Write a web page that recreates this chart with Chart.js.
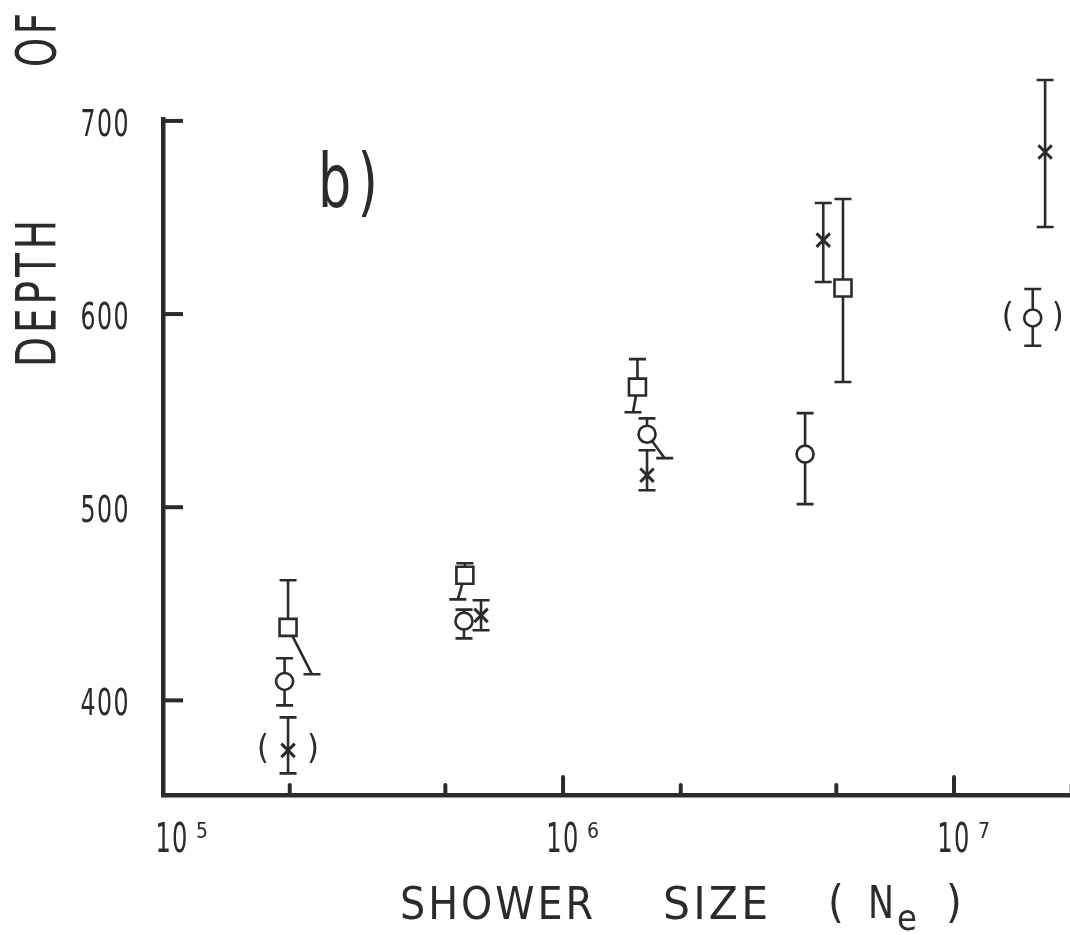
<!DOCTYPE html>
<html>
<head>
<meta charset="utf-8">
<script src="https://cdn.jsdelivr.net/npm/chart.js@4/dist/chart.umd.min.js"></script>
<style>
  html, body { margin: 0; padding: 0; background: #ffffff; }
  #wrap { width: 1070px; height: 935px; }
</style>
</head>
<body>
<div id="wrap"><canvas id="c" width="1070" height="935"></canvas></div>
<script>
// Depth of shower maximum versus shower size, panel b)

// Squares
const squareX  = [1.98e5, 5.61e5, 1.55e6, 5.20e6];
const squareY  = [437.8, 464.8, 562.2, 613.5];
const squareHi = [462.2, 471.0, 576.7, 659.6];
const squareLo = [413.5, 452.3, 549.2, 564.8];
const squareLoX = [2.28e5, 5.38e5, 1.51e6, null];   // displaced lower whisker end

// Circles
const circleX  = [1.94e5, 5.58e5, 1.64e6, 4.16e6, 1.59e7];
const circleY  = [409.8, 441.0, 537.8, 527.5, 598.0];
const circleHi = [421.8, 447.0, 546.0, 548.7, 613.0];
const circleLo = [397.4, 432.1, 525.4, 501.6, 583.6];
const circleLoX = [null, null, 1.82e6, null, null];
const circleBracketed = [false, false, false, false, true];

// Crosses
const crossX  = [1.98e5, 6.17e5, 1.64e6, 4.63e6, 1.71e7];
const crossY  = [374.1, 444.0, 516.6, 638.3, 683.9];
const crossHi = [391.2, 451.8, 529.5, 657.5, 721.2];
const crossLo = [362.2, 436.3, 508.8, 616.6, 645.1];
const crossBracketed = [true, false, false, false, false];

// Axes
const yTicks = [400, 500, 600, 700];
const xDecades = [5, 6, 7];
const xTickMarks = [2e5, 5e5, 1e6, 2e6, 5e6, 1e7, 2e7];

const INK = '#2b2b2b';
const FONT = '"DejaVu Sans Condensed", "DejaVu Sans", sans-serif';

function points(xs, ys) {
  return xs.map((x, i) => ({ x: x, y: ys[i] }));
}

// Draw text squeezed horizontally to a given width (narrow stencil lettering)
function fitText(ctx, s, x, y, size, width, align, spacing) {
  ctx.save();
  ctx.font = size + 'px ' + FONT;
  const canSpace = 'letterSpacing' in ctx;
  if (canSpace) ctx.letterSpacing = (spacing || 0) + 'px';
  let w = ctx.measureText(s).width;
  if (canSpace && spacing) w -= spacing;          // no trailing gap
  const sx = width ? width / w : 1;
  ctx.translate(x, y);
  ctx.scale(sx, 1);
  ctx.textAlign = align || 'left';
  ctx.fillText(s, 0, 0);
  ctx.restore();
}

const series = [
  { x: squareX, y: squareY, hi: squareHi, lo: squareLo, loX: squareLoX, br: null },
  { x: circleX, y: circleY, hi: circleHi, lo: circleLo, loX: circleLoX, br: circleBracketed },
  { x: crossX,  y: crossY,  hi: crossHi,  lo: crossLo,  loX: null,      br: crossBracketed }
];

const decor = {
  id: 'decor',
  beforeDatasetsDraw(chart) {
    const ctx = chart.ctx;
    const xs = chart.scales.x, ys = chart.scales.y;
    const area = chart.chartArea;
    ctx.save();
    ctx.strokeStyle = INK;
    ctx.lineCap = 'butt';

    // inward ticks on the depth axis
    ctx.lineWidth = 4;
    yTicks.forEach(v => {
      const py = ys.getPixelForValue(v);
      ctx.beginPath();
      ctx.moveTo(area.left, py);
      ctx.lineTo(area.left + 20, py);
      ctx.stroke();
    });

    // short upward ticks on the size axis
    ctx.lineCap = 'round';
    ctx.lineWidth = 4;
    xTickMarks.forEach(v => {
      const px = xs.getPixelForValue(v);
      const decade = Math.abs(Math.log10(v) - Math.round(Math.log10(v))) < 1e-9;
      ctx.beginPath();
      ctx.moveTo(px, area.bottom);
      ctx.lineTo(px, area.bottom - (decade ? 18 : 10));
      ctx.stroke();
    });

    // error bars
    ctx.lineCap = 'butt';
    ctx.lineWidth = 2.6;
    const CAP = 8.5;
    series.forEach(s => {
      s.x.forEach((xv, i) => {
        const px = xs.getPixelForValue(xv);
        const py = ys.getPixelForValue(s.y[i]);
        const ph = ys.getPixelForValue(s.hi[i]);
        const pl = ys.getPixelForValue(s.lo[i]);
        const lx = (s.loX && s.loX[i] != null) ? xs.getPixelForValue(s.loX[i]) : px;
        ctx.beginPath();
        ctx.moveTo(px, py); ctx.lineTo(px, ph);
        ctx.moveTo(px - CAP, ph); ctx.lineTo(px + CAP, ph);
        ctx.moveTo(px, py); ctx.lineTo(lx, pl);
        ctx.moveTo(lx - CAP, pl); ctx.lineTo(lx + CAP, pl);
        ctx.stroke();
      });
    });

    // brackets around uncertain points
    ctx.fillStyle = INK;
    ctx.textBaseline = 'middle';
    series.forEach(s => {
      if (!s.br) return;
      s.x.forEach((xv, i) => {
        if (!s.br[i]) return;
        const px = xs.getPixelForValue(xv);
        const py = ys.getPixelForValue(s.y[i]);
        fitText(ctx, '(', px - 25, py, 34, 0, 'center');
        fitText(ctx, ')', px + 25, py, 34, 0, 'center');
      });
    });
    ctx.restore();
  },
  afterDraw(chart) {
    const ctx = chart.ctx;
    const xs = chart.scales.x, ys = chart.scales.y;
    const area = chart.chartArea;
    ctx.save();
    ctx.fillStyle = INK;
    ctx.textBaseline = 'alphabetic';

    // depth tick labels
    yTicks.forEach(v => {
      const py = ys.getPixelForValue(v);
      fitText(ctx, String(v), area.left - 33, py + 15, 37, 48, 'right', 2);
    });

    // decade labels 10^n
    xDecades.forEach(n => {
      const px = xs.getPixelForValue(Math.pow(10, n));
      fitText(ctx, '10', px, 852, 40, 32, 'center', 2);
      fitText(ctx, String(n), px + 24, 838, 21, 12, 'left');
    });

    // horizontal axis title
    fitText(ctx, 'SHOWER', 400, 919, 45, 193, 'left', 3);
    fitText(ctx, 'SIZE', 663, 919, 45, 105, 'left', 3);
    fitText(ctx, '(', 828, 917, 45, 0, 'left');
    fitText(ctx, 'N', 868, 918, 45, 26, 'left');
    fitText(ctx, 'e', 897, 930, 36, 20, 'left');
    fitText(ctx, ')', 946, 917, 45, 0, 'left');

    // vertical axis title (runs past the top edge)
    ctx.save();
    ctx.translate(55, 367);
    ctx.rotate(-Math.PI / 2);
    fitText(ctx, 'DEPTH', 0, 0, 55, 147, 'left', 5);
    fitText(ctx, 'OF', 300, 0, 55, 54, 'left', 5);
    ctx.restore();

    // panel label
    fitText(ctx, 'b)', 318, 207, 74, 60, 'left', 8);
    ctx.restore();
  }
};

new Chart(document.getElementById('c'), {
  type: 'scatter',
  data: {
    datasets: [
      {
        label: 'squares',
        data: points(squareX, squareY),
        pointStyle: 'rect',
        pointRadius: 12,
        borderColor: INK,
        backgroundColor: '#ffffff',
        borderWidth: 2.6
      },
      {
        label: 'circles',
        data: points(circleX, circleY),
        pointStyle: 'circle',
        pointRadius: 8.5,
        borderColor: INK,
        backgroundColor: '#ffffff',
        borderWidth: 2.6
      },
      {
        label: 'crosses',
        data: points(crossX, crossY),
        pointStyle: 'crossRot',
        pointRadius: 9.5,
        borderColor: INK,
        backgroundColor: INK,
        borderWidth: 3
      }
    ]
  },
  options: {
    responsive: false,
    animation: false,
    devicePixelRatio: 1,
    events: [],
    layout: { autoPadding: false, padding: { top: 119, left: 0, right: 0, bottom: 0 } },
    plugins: { legend: { display: false }, tooltip: { enabled: false }, title: { display: false } },
    scales: {
      x: {
        type: 'logarithmic',
        min: 9.48e4,
        max: 1.98e7,
        grid: { display: true, drawOnChartArea: false, drawTicks: false },
        border: { display: true, color: INK, width: 4.5 },
        ticks: { display: false },
        afterFit(scale) { scale.height = 140; }
      },
      y: {
        type: 'linear',
        min: 351,
        max: 701,
        grid: { display: true, drawOnChartArea: false, drawTicks: false },
        border: { display: true, color: INK, width: 4.5 },
        afterBuildTicks(scale) { scale.ticks = yTicks.map(v => ({ value: v })); },
        ticks: { display: false },
        afterFit(scale) { scale.width = 163; }
      }
    }
  },
  plugins: [decor]
});
</script>
</body>
</html>
